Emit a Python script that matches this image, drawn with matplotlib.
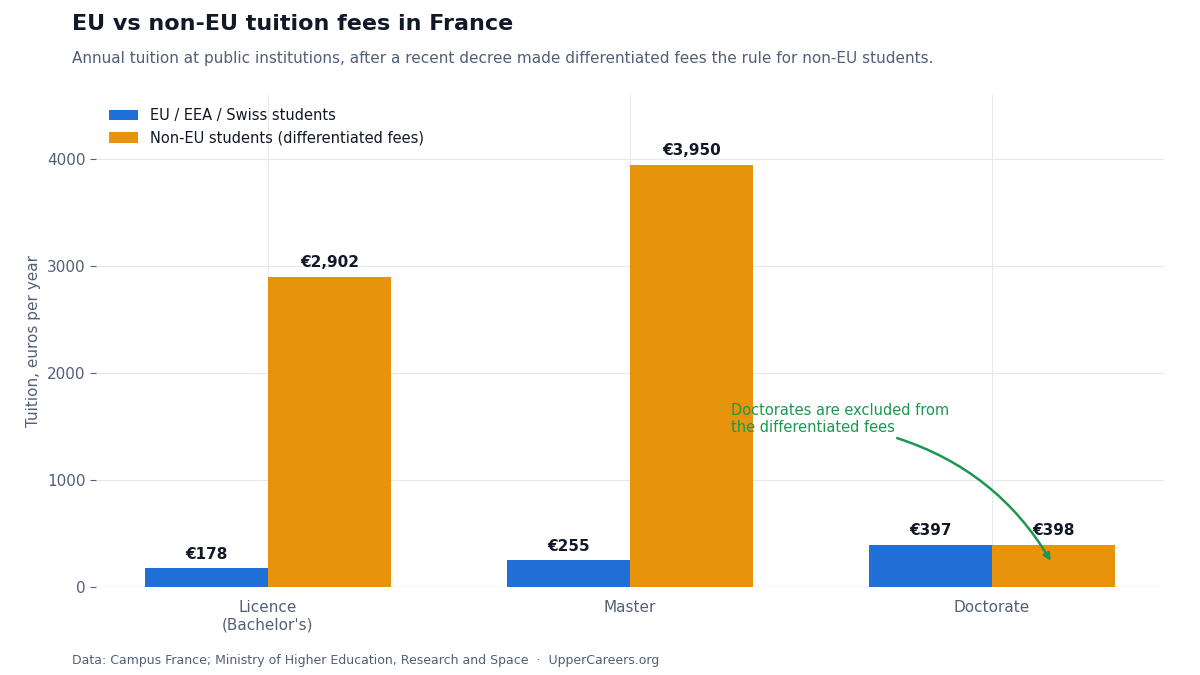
import matplotlib.pyplot as plt
import numpy as np

categories = ["Licence\n(Bachelor's)", "Master", "Doctorate"]
eu_fees = [178, 255, 397]
non_eu_fees = [2902, 3950, 398]

BLUE = "#1f6fd6"
ORANGE = "#e8930c"
DARK = "#111827"
GREY = "#525f78"

fig = plt.figure(figsize=(12, 6.75), dpi=100)
ax = fig.add_axes([0.08, 0.13, 0.89, 0.729])

x = np.arange(len(categories))
w = 0.34
b1 = ax.bar(x - w / 2, eu_fees, w, color=BLUE, label="EU / EEA / Swiss students", zorder=2)
b2 = ax.bar(x + w / 2, non_eu_fees, w, color=ORANGE, label="Non-EU students (differentiated fees)", zorder=2)

for bars in (b1, b2):
    for r in bars:
        ax.text(r.get_x() + r.get_width() / 2, r.get_height() + 60, "€{:,}".format(int(r.get_height())),
                ha="center", va="bottom", fontsize=11, fontweight="bold", color=DARK)

ax.set_xlim(-0.475, 2.475)
ax.set_ylim(0, 4600)
ax.set_yticks([0, 1000, 2000, 3000, 4000])
ax.set_xticks(x)
ax.set_xticklabels(categories)
ax.tick_params(colors=GREY, labelsize=11, length=4)
ax.tick_params(axis="x", length=0, pad=9)
ax.grid(True, color="#e6e8f0", linewidth=0.8, zorder=0)
for s in ax.spines.values():
    s.set_visible(False)
ax.axhline(0, color="#e6e8f0", linewidth=1, zorder=1)
ax.set_ylabel("Tuition, euros per year", color=GREY, fontsize=11)

leg = ax.legend(loc="upper left", frameon=False, fontsize=10.5)
for t in leg.get_texts():
    t.set_color(DARK)

ax.annotate("Doctorates are excluded from\nthe differentiated fees",
            xy=(2.166, 224), xytext=(1.279, 1420), color="#1a9850", fontsize=10.5,
            ha="left", va="bottom",
            arrowprops=dict(arrowstyle="-|>", color="#1a9850", lw=1.8,
                            connectionstyle="arc3,rad=-0.2", shrinkA=0,
                            relpos=(0.72, 0)))

fig.text(0.06, 0.98, "EU vs non-EU tuition fees in France", fontsize=16, fontweight="bold",
         color=DARK, va="top")
fig.text(0.06, 0.925, "Annual tuition at public institutions, after a recent decree made differentiated fees the rule for non-EU students.",
         fontsize=11, color=GREY, va="top")
fig.text(0.06, 0.017, "Data: Campus France; Ministry of Higher Education, Research and Space  ·  UpperCareers.org",
         fontsize=9, color=GREY)

fig.savefig("out.png", dpi=100)
